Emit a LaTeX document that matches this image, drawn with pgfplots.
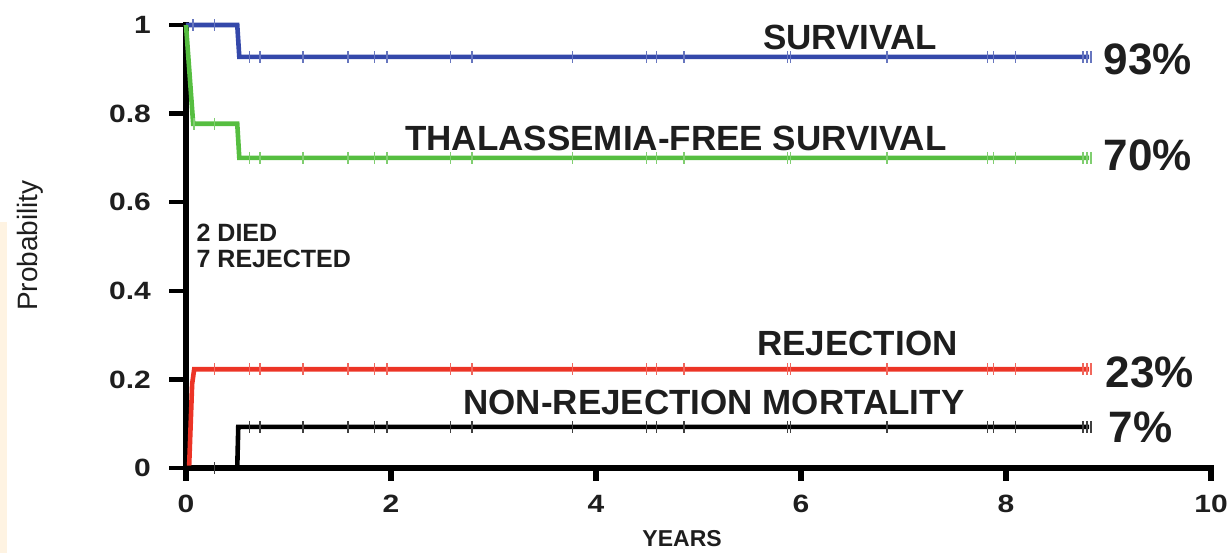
\documentclass[border=0pt]{standalone}
\usepackage{fontspec}
\setmainfont{Liberation Sans}
\newfontfamily\tickfont[FakeStretch=1.2]{Liberation Sans}
\usepackage{pgfplots}
\pgfplotsset{compat=1.18}
\definecolor{kmblue}{RGB}{52,72,170}
\definecolor{kmgreen}{RGB}{86,190,64}
\definecolor{kmred}{RGB}{236,52,38}
\definecolor{cream}{RGB}{254,243,226}
\definecolor{txt}{RGB}{30,30,30}
\begin{document}
\begin{tikzpicture}
\useasboundingbox (-93pt,-42.5pt) rectangle (522pt,234pt);
\fill[cream] (-93pt,-42.5pt) rectangle (-89.5pt,123pt);
\begin{axis}[
  scale only axis, width=512.5pt, height=221.5pt,
  xmin=0, xmax=10, ymin=0, ymax=1,
  axis x line*=bottom, axis y line*=left,
  axis line style={draw=none},
  xtick={0,2,4,6,8,10}, xticklabels={0,2,4,6,8,10},
  ytick={0,0.2,0.4,0.6,0.8,1}, yticklabels={0,0.2,0.4,0.6,0.8,1},
  tick align=outside, major tick length=6pt,
  major tick style={draw=none},
  tick label style={font=\tickfont\bfseries\fontsize{12.5}{14}\selectfont, text=txt},
  yticklabel style={xshift=-8pt},
  xticklabel style={yshift=-4pt},
  xlabel={YEARS}, ylabel={Probability},
  xlabel style={font=\bfseries\fontsize{11.5}{13}\selectfont, at={(axis description cs:0.484,-0.140)}, anchor=north, inner sep=0pt, text=txt},
  ylabel style={font=\fontsize{14}{16}\selectfont, at={(axis description cs:-0.152,0.502)}, anchor=center, text=txt},
  clip=false,
]
% axis spines and ticks
\draw[black, line width=2.6pt, line cap=rect] (axis cs:0,1) -- (axis cs:0,0) -- (axis cs:10,0);
\pgfplotsinvokeforeach{0,2,4,6,8,10}{\draw[black, line width=3pt] (axis cs:#1,0) -- ++(0,-6.5pt);}
\pgfplotsinvokeforeach{0,0.2,0.4,0.6,0.8,1}{\draw[black, line width=2.2pt] (axis cs:0,#1) -- ++(-8.5pt,0);}
% curves
\addplot[kmblue, line width=2.3pt] coordinates {(0,1) (0.50,1) (0.52,0.928) (8.81,0.928)};
\addplot[kmgreen, line width=2.3pt] coordinates {(0,1) (0.07,0.777) (0.50,0.777) (0.52,0.700) (8.81,0.700)};
\addplot[kmred, line width=2.3pt] coordinates {(0.03,0) (0.06,0.19) (0.08,0.223) (8.81,0.223)};
\addplot[black, line width=2.3pt] coordinates {(0,0) (0.50,0) (0.51,0.093) (8.81,0.093)};
% censoring marks
\addplot[only marks, mark=|, mark size=3pt, kmblue!75, mark options={line width=0.7pt}] coordinates {
(0.07,1) (0.28,1) (0.62,0.928) (0.72,0.928) (1.14,0.928) (1.58,0.928) (1.84,0.928) (1.96,0.928) (2.58,0.928) (2.79,0.928) (3.77,0.928) (4.49,0.928) (4.59,0.928) (4.86,0.928) (5.87,0.928) (5.90,0.928) (6.84,0.928) (7.82,0.928) (7.88,0.928) (8.09,0.928) (8.75,0.928) (8.79,0.928) (8.83,0.928)};
\addplot[only marks, mark=|, mark size=3pt, kmgreen!75, mark options={line width=0.7pt}] coordinates {
(0.08,0.777) (0.28,0.777) (0.62,0.700) (0.72,0.700) (1.14,0.700) (1.58,0.700) (1.84,0.700) (1.96,0.700) (2.58,0.700) (2.79,0.700) (3.77,0.700) (4.49,0.700) (4.59,0.700) (4.86,0.700) (5.87,0.700) (5.90,0.700) (6.84,0.700) (7.82,0.700) (7.88,0.700) (8.09,0.700) (8.75,0.700) (8.79,0.700) (8.83,0.700)};
\addplot[only marks, mark=|, mark size=3pt, kmred!75, mark options={line width=0.7pt}] coordinates {
(0.28,0.223) (0.62,0.223) (0.72,0.223) (1.14,0.223) (1.58,0.223) (1.84,0.223) (1.96,0.223) (2.58,0.223) (2.79,0.223) (3.77,0.223) (4.49,0.223) (4.59,0.223) (4.86,0.223) (5.87,0.223) (5.90,0.223) (6.84,0.223) (7.82,0.223) (7.88,0.223) (8.09,0.223) (8.75,0.223) (8.79,0.223) (8.83,0.223)};
\addplot[only marks, mark=|, mark size=3pt, black!75, mark options={line width=0.7pt}] coordinates {
(0.28,0) (0.62,0.093) (0.72,0.093) (1.14,0.093) (1.58,0.093) (1.84,0.093) (1.96,0.093) (2.58,0.093) (2.79,0.093) (3.77,0.093) (4.49,0.093) (4.59,0.093) (4.86,0.093) (5.87,0.093) (5.90,0.093) (6.84,0.093) (7.82,0.093) (7.88,0.093) (8.09,0.093) (8.75,0.093) (8.79,0.093) (8.83,0.093)};
% labels
\begin{scope}[every node/.style={text=txt, font=\bfseries\fontsize{17.5}{19}\selectfont, inner sep=0pt}]
\node[anchor=center] at (axis cs:6.48,0.972) {SURVIVAL};
\node[anchor=center] at (axis cs:4.78,0.745) {THALASSEMIA-FREE SURVIVAL};
\node[anchor=center] at (axis cs:6.55,0.282) {REJECTION};
\node[anchor=center] at (axis cs:5.15,0.149) {NON-REJECTION MORTALITY};
\end{scope}
\begin{scope}[every node/.style={text=txt, font=\bfseries\fontsize{22}{24}\selectfont, inner sep=0pt, anchor=west}]
\node at (axis cs:8.95,0.923) {93\%};
\node at (axis cs:8.95,0.705) {70\%};
\node at (axis cs:8.97,0.216) {23\%};
\node at (axis cs:9.00,0.092) {7\%};
\end{scope}
\begin{scope}[every node/.style={text=txt, font=\bfseries\fontsize{12.5}{14}\selectfont, inner sep=0pt, anchor=west}]
\node at (axis cs:0.10,0.530) {2 DIED};
\node at (axis cs:0.10,0.473) {7 REJECTED};
\end{scope}
\end{axis}
\end{tikzpicture}
\end{document}
